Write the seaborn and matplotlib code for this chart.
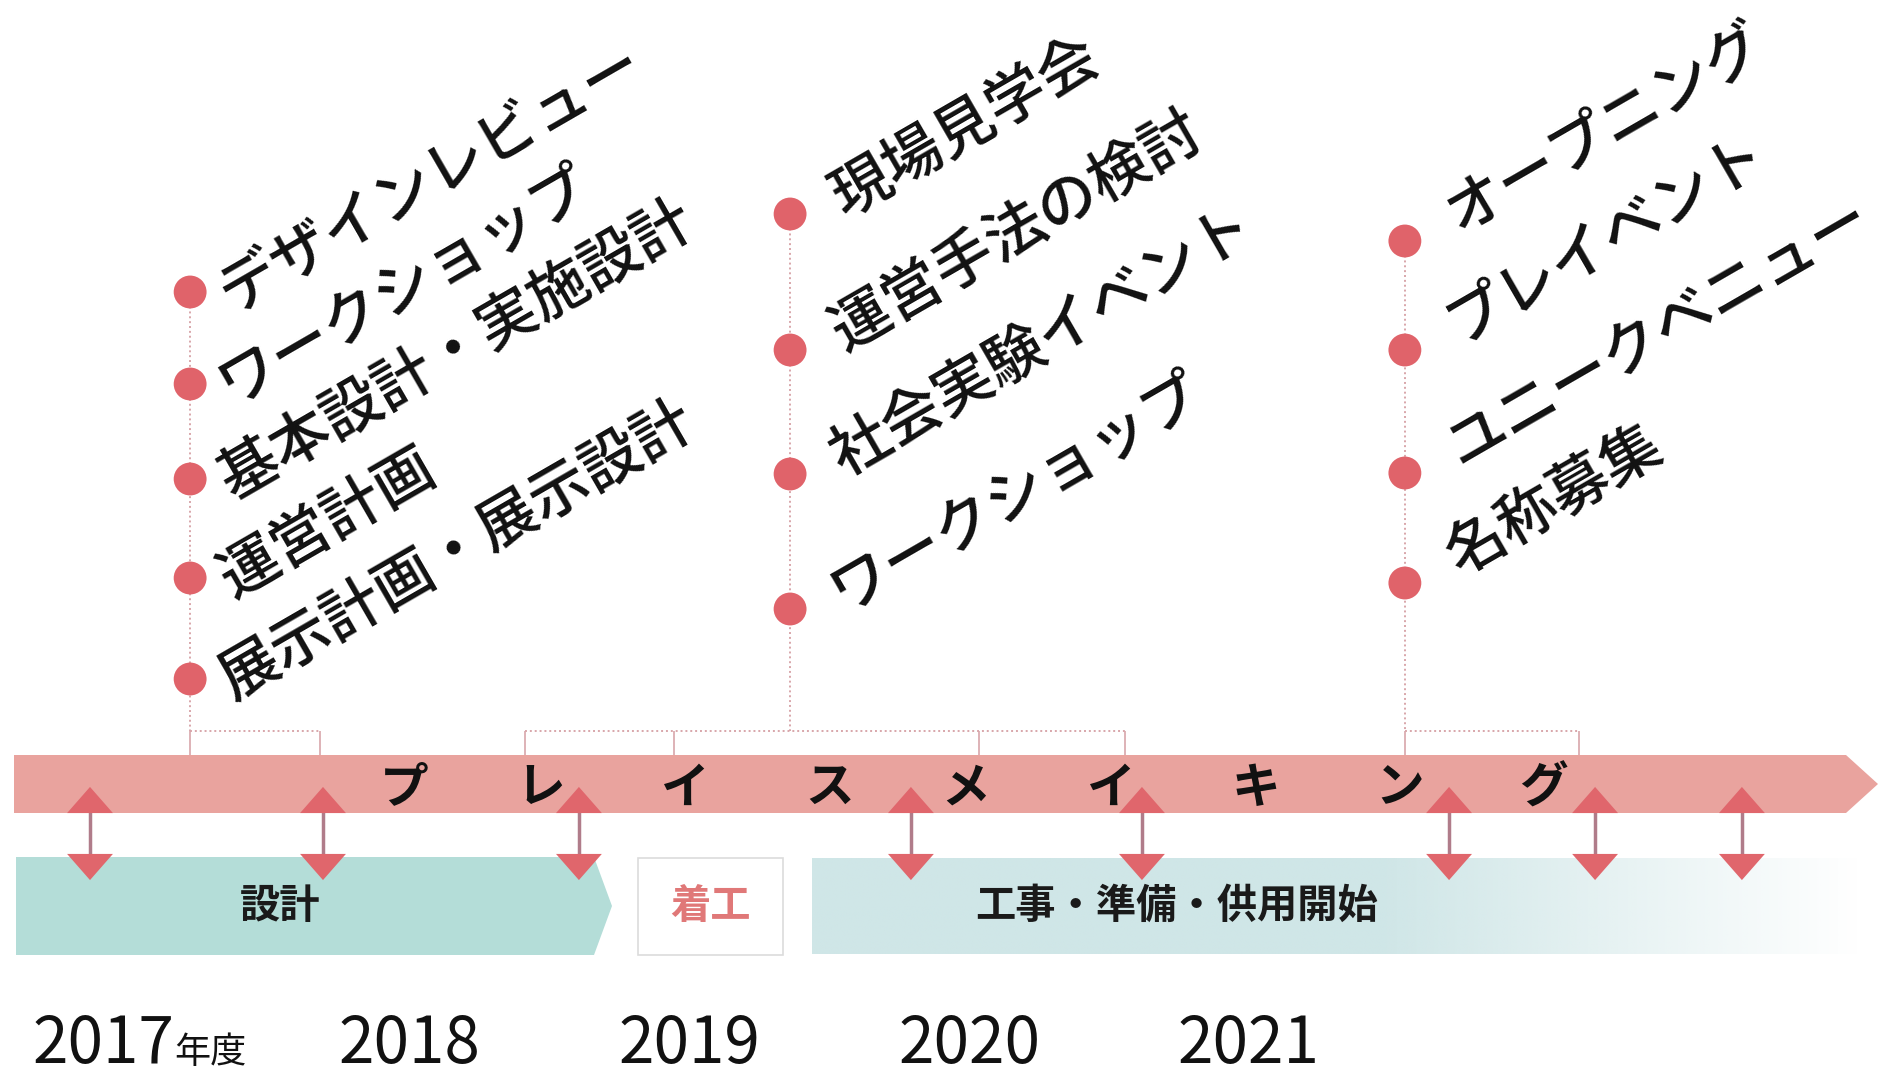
import numpy as np
import pandas as pd
import matplotlib
matplotlib.use("Agg")
import matplotlib.pyplot as plt
from matplotlib.colors import to_rgb
from matplotlib.patches import Polygon, Rectangle
import seaborn as sns

sns.set_theme(style="white")
plt.rcParams['font.family'] = ['Noto Sans CJK JP', 'DejaVu Sans']

# ---- data ----
# x = fiscal year position on the timeline, y = row (px from top)
years = [2017, 2018, 2019, 2020, 2021]

col_x = [2017.215, 2019.360, 2021.558]
col_labels = [
    ["デザインレビュー", "ワークショップ", "基本設計・実施設計", "運営計画", "展示計画・展示設計"],
    ["現場見学会", "運営手法の検討", "社会実験イベント", "ワークショップ"],
    ["オープニング", "プレイベント", "ユニークベニュー", "名称募集"],
]
col_y = [
    [292, 384, 479, 578, 679],
    [214, 350, 474, 609],
    [241, 350, 473, 583],
]
col_ticks = [
    [2017.215, 2017.679],
    [2018.412, 2018.945, 2020.035, 2020.557],
    [2021.558, 2022.181],
]
arrow_x = [2016.857, 2017.690, 2018.605, 2019.792, 2020.618, 2021.716, 2022.238, 2022.763]
band_word = list("プレイスメイキング")
band_word_x = [2017.980, 2018.470, 2018.984, 2019.503, 2019.989, 2020.507, 2021.026, 2021.541, 2022.052]
phases = ["設計", "着工", "工事・準備・供用開始"]
phase_x = [2017.536, 2019.077, 2020.743]

# ---- style ----
PINK = "#e9a39e"
DOT = "#e0636a"
TRI = "#e0666c"
STEM = "#b07c8a"
TEAL1 = "#b4ddd8"
TEAL2 = "#cfe6e7"
DOTLINE = "#d8a6aa"
label_offset = [(24, -4), (33, 9), (33, 16)]


def px(v):
    # layout helper: pixel column -> timeline units
    return 2017 + (v - 130) / 279.7


fig = plt.figure(figsize=(18.92, 10.75), dpi=100)
ax = fig.add_axes([0, 0, 1, 1])

# main pink arrow band
ax.add_patch(Polygon([(px(14), 755), (px(1846), 755), (px(1878), 784),
                      (px(1846), 813), (px(14), 813)], closed=True,
                     fc=PINK, ec="none", zorder=1))
for ch, x in zip(band_word, band_word_x):
    ax.text(x, 788, ch, ha="center", va="center", fontsize=35,
            fontweight="bold", color="#111111", zorder=4)

# phase bands
ax.add_patch(Polygon([(px(16), 857), (px(594), 857), (px(612), 906),
                      (px(594), 955), (px(16), 955)], closed=True,
                     fc=TEAL1, ec="none", zorder=1))
ax.add_patch(Rectangle((px(638), 858), px(783) - px(638), 97,
                       fc="white", ec="#dcdcdc", lw=1.2, zorder=1))
gx = np.linspace(812, 1860, 400)
grad = np.zeros((1, len(gx), 4))
grad[..., :3] = to_rgb(TEAL2)
grad[0, :, 3] = np.clip((1860 - gx) / (1860 - 1380), 0, 1)
ax.imshow(grad, extent=(px(812), px(1860), 954, 858), aspect="auto",
          interpolation="bilinear", zorder=1)

phase_colors = ["#1a1a1a", "#e07878", "#1a1a1a"]
for name, x, c in zip(phases, phase_x, phase_colors):
    ax.text(x, 906, name, ha="center", va="center", fontsize=29,
            fontweight="bold", color=c, zorder=4)

# double arrows between bands
ax.vlines(arrow_x, 812, 856, color=STEM, lw=2.5, zorder=3)
arr = pd.DataFrame({"x": arrow_x})
up = [(-1, -0.57), (1, -0.57), (0, 0.57)]
down = [(-1, 0.57), (1, 0.57), (0, -0.57)]
sns.scatterplot(data=arr.assign(y=800), x="x", y="y", marker=up, s=1090,
                color=TRI, edgecolor="none", linewidth=0, ax=ax, zorder=5, legend=False)
sns.scatterplot(data=arr.assign(y=867), x="x", y="y", marker=down, s=1090,
                color=TRI, edgecolor="none", linewidth=0, ax=ax, zorder=5, legend=False)

# event columns
rows = []
for i, (cx, ys, labels) in enumerate(zip(col_x, col_y, col_labels)):
    bracket_y = 731
    ax.plot([cx, cx], [ys[0], bracket_y], color=DOTLINE, lw=1.4, ls=(0, (1, 1.5)), zorder=2)
    ticks = col_ticks[i]
    ax.plot([min(ticks), max(ticks)], [bracket_y, bracket_y], color=DOTLINE,
            lw=1.4, ls=(0, (1, 1.5)), zorder=2)
    ax.vlines(ticks, bracket_y, 755, color=DOTLINE, lw=1.2, zorder=2)
    for y, lab in zip(ys, labels):
        rows.append({"x": cx, "y": y})
        ax.annotate(lab, xy=(cx, y), xytext=label_offset[i], textcoords="offset points",
                    rotation=30, rotation_mode="anchor", ha="left", va="center",
                    fontsize=43, fontweight="medium", color="#111111", zorder=4,
                    annotation_clip=False)
dots = pd.DataFrame(rows)
sns.scatterplot(data=dots, x="x", y="y", s=560, color=DOT, edgecolor="none",
                linewidth=0, ax=ax, zorder=5, legend=False)

# year labels
for i, yr in enumerate(years):
    off = (-19, 0) if i == 0 else (0, 0)
    ax.annotate(str(yr), xy=(yr, 1063), xytext=off, textcoords="offset points",
                ha="center", va="baseline", fontsize=46, color="#111111")
ax.annotate("年度", xy=(years[0], 1063), xytext=(32, 0), textcoords="offset points",
            ha="left", va="baseline", fontsize=26, color="#111111")

ax.set_xlim(px(0), px(1892))
ax.set_ylim(1075, 0)
ax.axis("off")

fig.savefig("out.png", dpi=100, facecolor="white")
